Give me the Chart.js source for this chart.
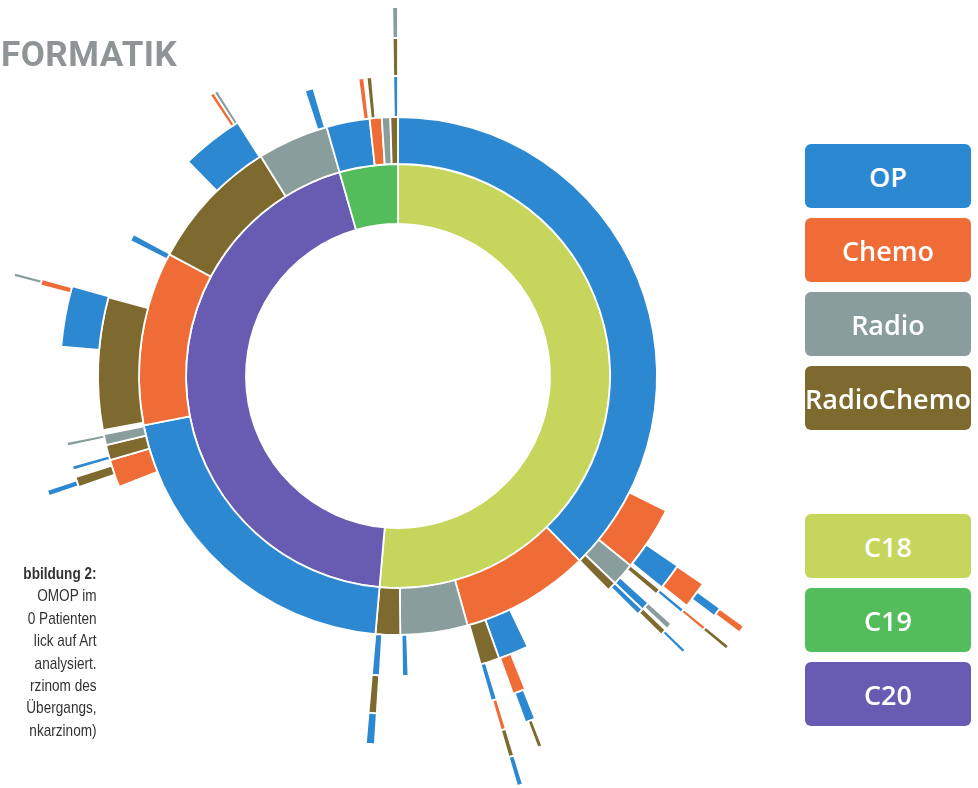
<!DOCTYPE html>
<html>
<head>
<meta charset="utf-8">
<script src="https://cdn.jsdelivr.net/npm/chart.js@4.4.1/dist/chart.umd.min.js"></script>
<style>
    html, body { margin: 0; padding: 0; background: #ffffff; }
    body { width: 978px; height: 788px; position: relative; overflow: hidden; }
    #sunburst { position: absolute; left: 0; top: 0; }
    .title { position: absolute; left: 1px; top: 34px; font: bold 35px Roboto, sans-serif; color: #8f9597; letter-spacing: 0.5px; }
    .caption { position: absolute; right: 881px; top: 563px; text-align: right; font: 17px "Liberation Sans", Arial, sans-serif;
               color: #333333; line-height: 22.4px; transform: scaleX(0.8); transform-origin: right top; white-space: nowrap; }
    .legend-box { position: absolute; left: 805px; width: 166px; height: 64px; border-radius: 6px; color: #ffffff;
                  font: 600 27px "Open Sans", sans-serif; display: flex; align-items: center; justify-content: center; }
</style>
</head>
<body>
<canvas id="sunburst" width="978" height="788"></canvas>
<div class="title">FORMATIK</div>
<div class="caption"><b>bbildung 2:</b><br>OMOP im<br>0 Patienten<br>lick auf Art<br>analysiert.<br>rzinom des<br>Übergangs,<br>nkarzinom)</div>
<div id="legend"></div>
<script>
    // colours per category ('' = no further therapy -> left empty)
    const therapyColors = {
        'OP': '#2c88d1',
        'Chemo': '#f06c37',
        'Radio': '#8a9d9d',
        'RadioChemo': '#7e6a2f',
        'C18': '#c6d55b',
        'C19': '#53bd5b',
        'C20': '#675cb1'
    };

    // ring 1: diagnosis (values in degrees of the full circle)
    const ring1Labels = ['C18', 'C20', 'C19'];
    const ring1Values = [185, 159, 16];

    // ring 2: first therapy
    const ring2Labels = ['OP', 'Chemo', 'Radio', 'RadioChemo', 'OP', 'Chemo', 'RadioChemo', 'Radio', 'OP', 'Chemo', 'Radio', 'RadioChemo'];
    const ring2Values = [135.5, 28.9, 15.1, 5.5, 74, 39, 30, 16, 9.7, 2.7, 1.9, 1.7];

    // ring 3: second therapy
    const ring3Labels = ['', 'Chemo', 'Radio', 'RadioChemo', '', 'OP', 'RadioChemo', '', 'OP', '', 'OP', '', 'Chemo', 'RadioChemo', 'Radio', '',
        'RadioChemo', '', 'OP', '', 'OP', '', 'OP', '', 'Chemo', '', 'RadioChemo', '', 'OP'];
    const ring3Values = [116.7, 12.5, 4.5, 1.8, 18.9, 5.9, 3.7, 14.0, 1.2, 4.3, 1.5, 63.3, 5.4, 3.0, 2.1, 0.8,
        25.6, 11.6, 1.4, 17.4, 12.1, 14.2, 1.7, 8.8, 1.1, 0.5, 1.0, 4.1, 0.9];

    // ring 4: third therapy
    const ring4Labels = ['', 'OP', '', 'RadioChemo', '', 'OP', 'OP', '', 'Chemo', '', 'OP', '', 'RadioChemo', '', 'RadioChemo', '',
        'OP', '', 'Radio', '', 'OP', '', 'Chemo', 'Radio', '', 'RadioChemo'];
    const ring4Values = [124.2, 4.5, 0.5, 1.0, 2.0, 1.5, 1.1, 23.1, 2.2, 2.9, 1.0, 19.6, 1.4, 65.8, 1.8, 1.2,
        0.8, 3.4, 0.7, 16.3, 10.4, 40.8, 0.8, 0.7, 31.4, 0.9];

    // ring 5: fourth therapy
    const ring5Labels = ['', 'Chemo', '', 'OP', '', 'Radio', '', 'RadioChemo', '', 'OP', '', 'Chemo', '', 'OP', '', 'OP', '', 'Chemo', '', 'Radio'];
    const ring5Values = [124.3, 4.2, 0.7, 0.7, 2.3, 1.0, 0.3, 1.0, 23.7, 1.6, 3.2, 0.8, 19.8, 1.4, 66.0, 1.0, 32.2, 1.0, 73.9, 0.9];

    // ring 6: fifth therapy
    const ring6Labels = ['', 'OP', '', 'Chemo', '', 'OP', '', 'RadioChemo', '', 'RadioChemo', '', 'Radio', ''];
    const ring6Values = [125.8, 1.4, 2.0, 0.6, 3.8, 0.6, 24.5, 0.7, 3.6, 0.8, 120.7, 0.6, 74.9];

    // ring 7: sixth therapy
    const ring7Labels = ['', 'Chemo', '', 'RadioChemo', '', 'OP', ''];
    const ring7Values = [125.9, 1.0, 2.3, 0.6, 33.2, 0.8, 196.2];

    const legendTherapy = ['OP', 'Chemo', 'Radio', 'RadioChemo'];
    const legendDiagnosis = ['C18', 'C19', 'C20'];

    function makeRing(labels, values, weight) {
        return {
            data: values,
            labels: labels,
            weight: weight,
            backgroundColor: labels.map(l => l ? therapyColors[l] : 'rgba(0,0,0,0)'),
            borderColor: '#ffffff',
            borderWidth: labels.map(l => l ? 1.8 : 0),
            clip: false
        };
    }

    // inner -> outer, weight = ring thickness in px
    let rings = [
        makeRing(ring1Labels, ring1Values, 60),
        makeRing(ring2Labels, ring2Values, 47),
        makeRing(ring3Labels, ring3Values, 41),
        makeRing(ring4Labels, ring4Values, 38),
        makeRing(ring5Labels, ring5Values, 31),
        makeRing(ring6Labels, ring6Values, 28),
        makeRing(ring7Labels, ring7Values, 30)
    ];

    let ctx = document.getElementById('sunburst').getContext('2d');
    let sunburstChart = new Chart(ctx, {
        type: 'doughnut',
        data: {
            labels: ring1Labels,
            // first dataset is drawn as the outermost ring
            datasets: rings.slice().reverse()
        },
        options: {
            responsive: false,
            animation: false,
            cutout: '35.6%',
            radius: 427,
            layout: {
                padding: { left: 0, right: 182, top: 0, bottom: 36 }
            },
            plugins: {
                legend: { display: false },
                tooltip: { enabled: false }
            }
        }
    });

    // legend boxes
    let legendDiv = document.getElementById('legend');
    let tops = [144, 218, 292, 366];
    legendTherapy.forEach((name, i) => {
        let box = document.createElement('div');
        box.className = 'legend-box';
        box.style.top = tops[i] + 'px';
        box.style.background = therapyColors[name];
        box.textContent = name;
        legendDiv.appendChild(box);
    });
    let tops2 = [514, 588, 662];
    legendDiagnosis.forEach((name, i) => {
        let box = document.createElement('div');
        box.className = 'legend-box';
        box.style.top = tops2[i] + 'px';
        box.style.background = therapyColors[name];
        box.textContent = name;
        legendDiv.appendChild(box);
    });
</script>
</body>
</html>
